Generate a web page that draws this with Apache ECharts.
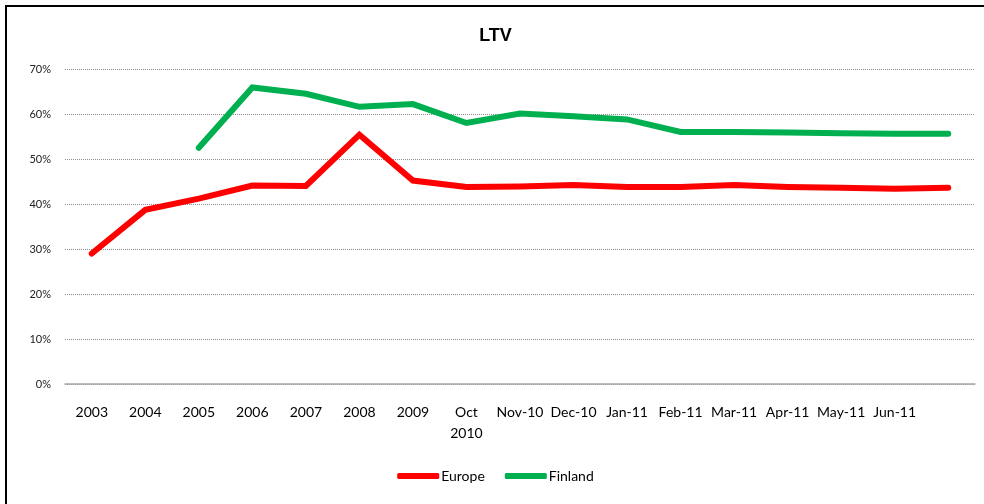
<!DOCTYPE html>
<html>
<head>
<meta charset="utf-8">
<script src="https://cdn.jsdelivr.net/npm/echarts@6/dist/echarts.min.js"></script>
<style>
    html, body { margin: 0; padding: 0; background: #fff; }
    #frame {
        position: absolute; left: 5px; top: 5px;
        width: 979px; height: 497px;
        border-top: 2px solid #000; border-left: 2px solid #000;
        border-bottom: 1px solid #d9d9d9;
    }
    #ltvChart { width: 977px; height: 497px; }
</style>
</head>
<body>
<div id="frame"><div id="ltvChart"></div></div>
<script>
var categories = ['2003', '2004', '2005', '2006', '2007', '2008', '2009', 'Oct\n2010',
    'Nov-10', 'Dec-10', 'Jan-11', 'Feb-11', 'Mar-11', 'Apr-11', 'May-11', 'Jun-11', ''];
var europe = [29.0, 38.7, 41.2, 44.1, 44.0, 55.4, 45.2, 43.8, 43.9, 44.2, 43.8, 43.8, 44.2, 43.8, 43.6, 43.4, 43.6];
var finland = [null, null, 52.5, 65.9, 64.5, 61.6, 62.2, 58.0, 60.1, 59.5, 58.8, 56.0, 56.0, 55.9, 55.7, 55.6, 55.6];
var yTicks = [0, 10, 20, 30, 40, 50, 60, 70];

document.addEventListener('DOMContentLoaded', function () {
    var chartDom = document.getElementById('ltvChart');
    var myChart = echarts.init(chartDom);
    var fontName = 'Lato';
    var option = {
        animation: false,
        title: {
            text: 'LTV',
            left: 'center',
            top: 15,
            textStyle: { color: '#000', fontSize: 18, fontWeight: 'bold', fontFamily: 'Liberation Sans' }
        },
        legend: {
            bottom: 16,
            left: 'center',
            itemWidth: 42,
            itemHeight: 6,
            itemGap: 20,
            icon: 'roundRect',
            textStyle: { color: '#000', fontSize: 14, fontFamily: fontName, padding: [0, 0, 0, -3] },
            data: ['Europe', 'Finland']
        },
        grid: { left: 58, right: 9, top: 62, bottom: 120, containLabel: false },
        xAxis: {
            type: 'category',
            data: categories,
            boundaryGap: true,
            axisLine: { lineStyle: { color: '#a6a6a6', width: 1.5 } },
            axisTick: { show: false },
            axisLabel: {
                color: '#000', fontSize: 14, fontFamily: fontName, margin: 18,
                interval: 0, lineHeight: 21
            }
        },
        yAxis: {
            type: 'value',
            min: yTicks[0],
            max: yTicks[yTicks.length - 1],
            interval: 10,
            axisLine: { show: false },
            axisTick: { show: false },
            splitLine: { lineStyle: { color: '#8c8c8c', type: [1, 1], width: 1 } },
            axisLabel: {
                color: '#222', fontSize: 11, fontFamily: fontName, margin: 14,
                formatter: '{value}%'
            }
        },
        series: [
            {
                name: 'Europe',
                type: 'line',
                data: europe,
                symbol: 'none',
                color: '#ff0000',
                lineStyle: { width: 6, color: '#ff0000', cap: 'round', join: 'miter' },
                z: 3
            },
            {
                name: 'Finland',
                type: 'line',
                data: finland,
                symbol: 'none',
                color: '#00b050',
                lineStyle: { width: 6, color: '#00b050', cap: 'round', join: 'miter' },
                z: 2
            }
        ]
    };
    myChart.setOption(option);
    window.addEventListener('resize', function () {
        myChart.resize();
    });
});
</script>
</body>
</html>
